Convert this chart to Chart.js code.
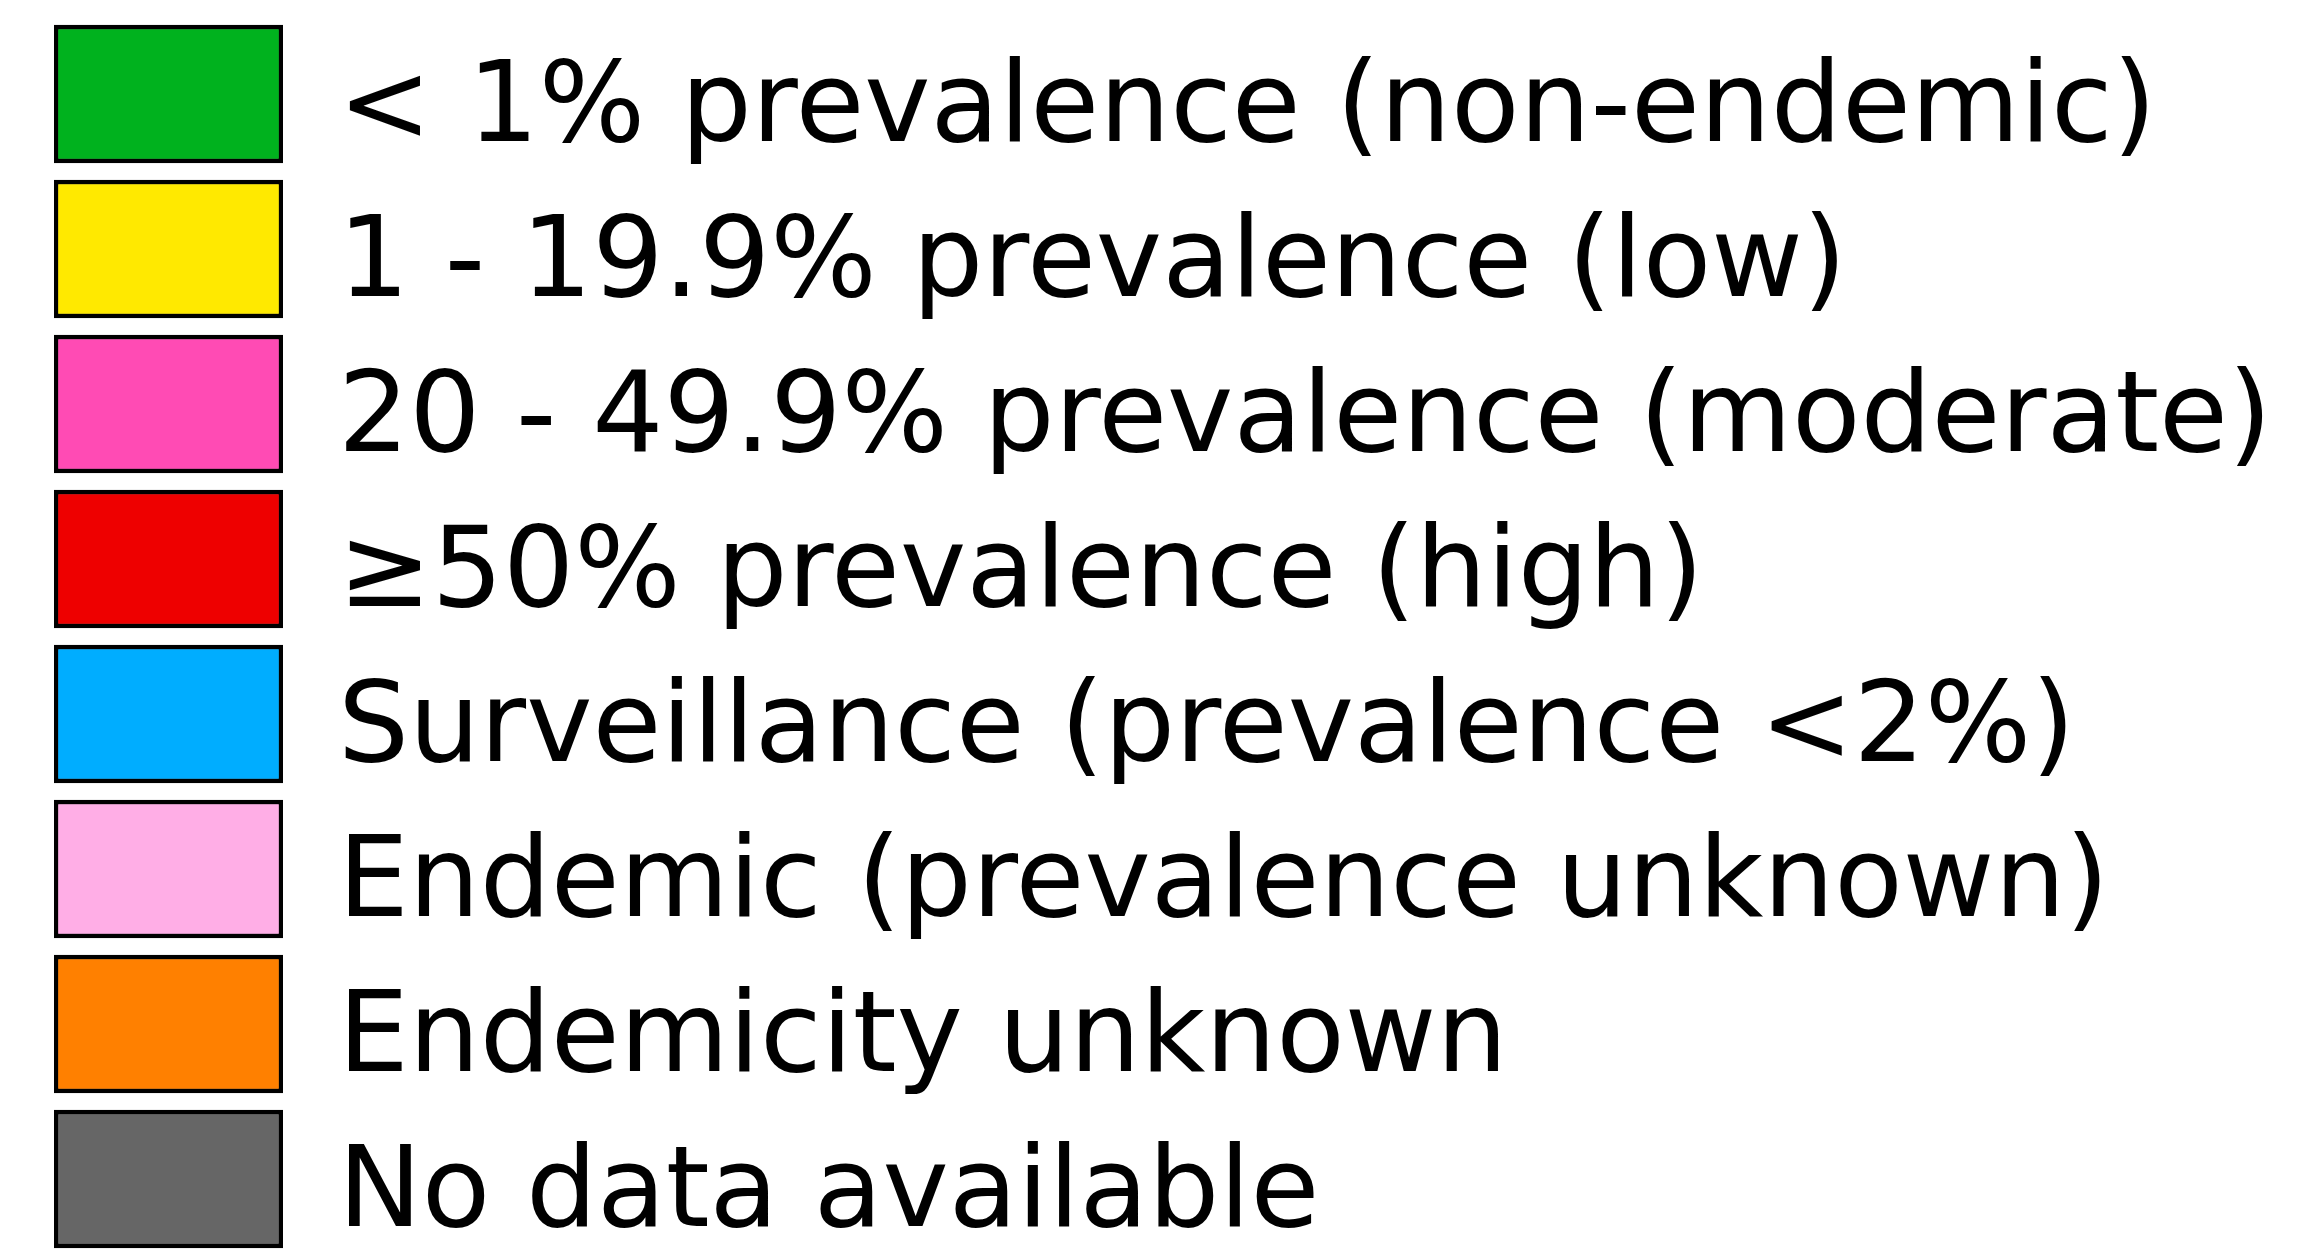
<!DOCTYPE html>
<html>
<head>
<meta charset="utf-8">
<script src="https://cdn.jsdelivr.net/npm/chart.js@4"></script>
<style>
  html, body { margin: 0; padding: 0; background: #fff; overflow: hidden; }
  #wrap { width: 2303px; height: 1260px; }
</style>
</head>
<body>
<div id="wrap"><canvas id="legendChart" width="2303" height="1260"></canvas></div>
<script>
// prevalence classes shown in the key
const classLabels = [
  "< 1% prevalence (non-endemic)",
  "1 - 19.9% prevalence (low)",
  "20 - 49.9% prevalence (moderate)",
  "\u226550% prevalence (high)",
  "Surveillance (prevalence <2%)",
  "Endemic (prevalence unknown)",
  "Endemicity unknown",
  "No data available"
];
const classColors = [
  "#00b21e", "#ffe900", "#ff4bb4", "#ee0000",
  "#00adff", "#ffaee6", "#ff8000", "#666666"
];
// every key swatch has the same length
const swatchValues = [1, 1, 1, 1, 1, 1, 1, 1];

const ctx = document.getElementById('legendChart');

new Chart(ctx, {
  type: 'bar',
  data: {
    labels: classLabels,
    datasets: [{
      label: "Prevalence class",
      data: swatchValues,
      backgroundColor: classColors,
      hoverBackgroundColor: classColors,
      borderColor: "#000000",
      hoverBorderColor: "#000000",
      borderWidth: 4.5,
      borderSkipped: false,
      barThickness: 138
    }]
  },
  options: {
    indexAxis: 'y',
    responsive: false,
    animation: false,
    // canvas runs a few px past the window so the rows keep a 155px pitch
    layout: { padding: { top: 16.5, left: 54, right: 0, bottom: 3.5 } },
    scales: {
      x: { display: false, min: 0, max: 1 },
      y: {
        position: 'right',
        grid: { display: false, drawTicks: false },
        border: { display: false },
        ticks: {
          color: "#000000",
          padding: 55,
          labelOffset: 18,
          autoSkip: false,
          font: { family: "'DejaVu Sans'", size: 112 }
        },
        afterFit: (scale) => {
          // labels sit inside their rows, so no extra room above or below
          scale.width = 2020;
          scale.paddingTop = 0;
          scale.paddingBottom = 0;
        }
      }
    },
    plugins: {
      tooltip: { enabled: false },
      legend: { display: false }
    }
  }
});
</script>
</body>
</html>
